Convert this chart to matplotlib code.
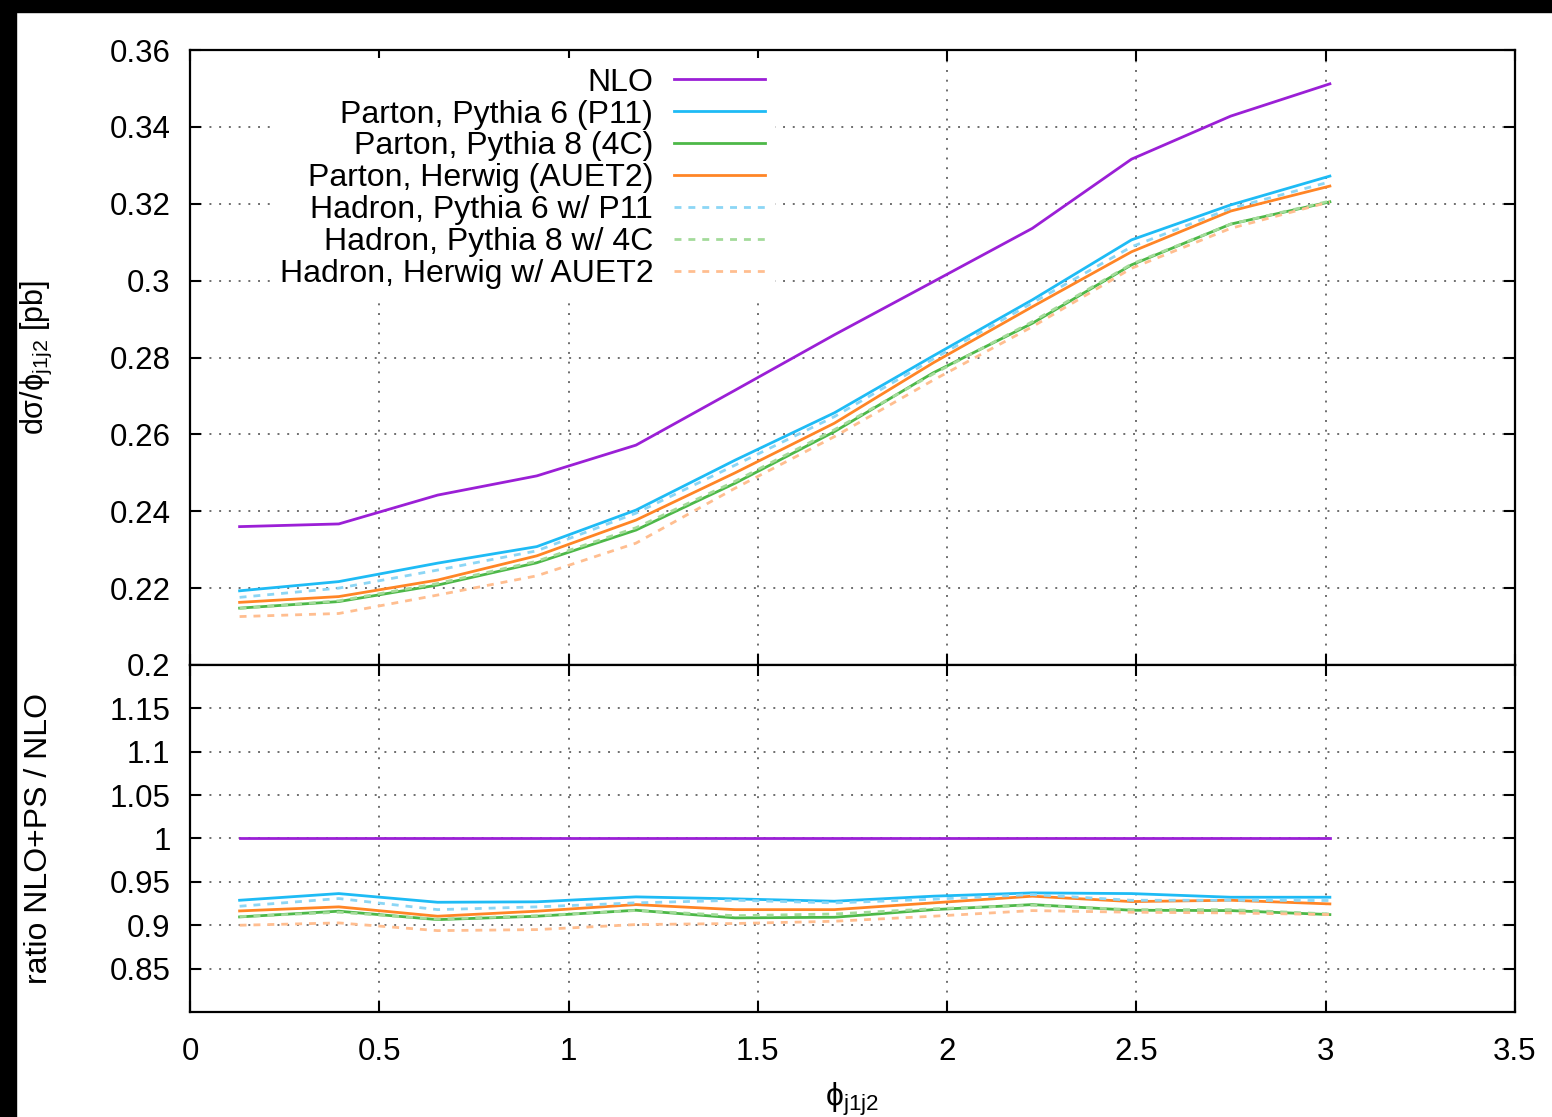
import numpy as np
import matplotlib.pyplot as plt
from matplotlib.ticker import FuncFormatter
from matplotlib.patches import Rectangle

plt.rcParams['font.family'] = ['Liberation Sans', 'DejaVu Sans']
plt.rcParams['mathtext.fontset'] = 'custom'
plt.rcParams['mathtext.rm'] = 'Liberation Sans'
plt.rcParams['mathtext.it'] = 'Liberation Sans'

# bin centres in phi_j1j2
phi = [0.131, 0.393, 0.654, 0.916, 1.178, 1.440, 1.702, 1.963, 2.225, 2.487, 2.749, 3.011]

# d sigma / d phi [pb]
nlo      = [0.2360, 0.2367, 0.2442, 0.2492, 0.2572, 0.2715, 0.2859, 0.2997, 0.3136, 0.3316, 0.3428, 0.3512]
par_py6  = [0.2193, 0.2217, 0.2265, 0.2308, 0.2403, 0.2533, 0.2656, 0.2804, 0.2950, 0.3106, 0.3197, 0.3272]
par_py8  = [0.2148, 0.2165, 0.2208, 0.2266, 0.2351, 0.2473, 0.2607, 0.2760, 0.2889, 0.3041, 0.3147, 0.3205]
par_hw   = [0.2163, 0.2178, 0.2221, 0.2284, 0.2377, 0.2500, 0.2629, 0.2786, 0.2932, 0.3075, 0.3181, 0.3246]
had_py6  = [0.2176, 0.2200, 0.2247, 0.2297, 0.2395, 0.2520, 0.2646, 0.2796, 0.2942, 0.3088, 0.3188, 0.3257]
had_py8  = [0.2147, 0.2167, 0.2212, 0.2270, 0.2357, 0.2478, 0.2612, 0.2757, 0.2893, 0.3043, 0.3147, 0.3207]
had_hw   = [0.2126, 0.2134, 0.2182, 0.2232, 0.2317, 0.2460, 0.2594, 0.2741, 0.2880, 0.3032, 0.3136, 0.3205]

# ratio NLO+PS / NLO
r_nlo     = [1.0] * 12
r_par_py6 = [0.9288, 0.9365, 0.9265, 0.9270, 0.9327, 0.9304, 0.9277, 0.9335, 0.9373, 0.9365, 0.9323, 0.9323]
r_par_py8 = [0.9096, 0.9162, 0.9065, 0.9104, 0.9173, 0.9085, 0.9092, 0.9180, 0.9238, 0.9173, 0.9169, 0.9123]
r_par_hw  = [0.9165, 0.9212, 0.9104, 0.9162, 0.9238, 0.9180, 0.9180, 0.9258, 0.9335, 0.9273, 0.9288, 0.9246]
r_had_py6 = [0.9219, 0.9308, 0.9180, 0.9212, 0.9258, 0.9288, 0.9258, 0.9300, 0.9354, 0.9288, 0.9288, 0.9285]
r_had_py8 = [0.9100, 0.9150, 0.9070, 0.9110, 0.9170, 0.9110, 0.9130, 0.9190, 0.9230, 0.9180, 0.9180, 0.9130]
r_had_hw  = [0.9000, 0.9027, 0.8938, 0.8950, 0.9008, 0.9020, 0.9046, 0.9104, 0.9169, 0.9150, 0.9142, 0.9123]

labels = ['NLO', 'Parton, Pythia 6 (P11)', 'Parton, Pythia 8 (4C)', 'Parton, Herwig (AUET2)',
          'Hadron, Pythia 6 w/ P11', 'Hadron, Pythia 8 w/ 4C', 'Hadron, Herwig w/ AUET2']
colors = ['#9B1FD6', '#1EBBF5', '#4DB848', '#FF8526', '#8CD6F5', '#A3DB9A', '#FFBE90']
styles = ['-', '-', '-', '-', (0, (2.5, 2.5)), (0, (2.5, 2.5)), (0, (2.5, 2.5))]

upper = [nlo, par_py6, par_py8, par_hw, had_py6, had_py8, had_hw]
lower = [r_nlo, r_par_py6, r_par_py8, r_par_hw, r_had_py6, r_had_py8, r_had_hw]

fig = plt.figure(figsize=(15.52, 11.17), dpi=100)
W, H = 1552, 1117
ax1 = fig.add_axes([190 / W, 1 - 665 / H, (1515 - 190) / W, (665 - 50) / H])
ax2 = fig.add_axes([190 / W, 1 - 1012 / H, (1515 - 190) / W, (1012 - 665) / H])

fmt = FuncFormatter(lambda v, p: '%g' % round(v, 3))

for ax in (ax1, ax2):
    ax.set_xlim(0, 3.5)
    ax.set_xticks(np.arange(0, 3.51, 0.5))
    ax.grid(True, color='#6e6e6e', linestyle=(0, (1, 4)), linewidth=1.4)
    ax.tick_params(direction='in', length=8, width=1.5, top=True, right=True,
                   labelsize=22.5, pad=14)
    ax.xaxis.set_major_formatter(fmt)
    ax.yaxis.set_major_formatter(fmt)
    for s in ax.spines.values():
        s.set_linewidth(1.6)

ax1.set_ylim(0.2, 0.36)
ax1.set_yticks(np.arange(0.2, 0.361, 0.02))
ax1.tick_params(labelbottom=False)
ax2.set_ylim(0.8, 1.2)
ax2.set_yticks(np.arange(0.85, 1.151, 0.05))
ax2.tick_params(axis='x', pad=18)

for y, lab, c, ls in zip(upper, labels, colors, styles):
    ax1.plot(phi, y, color=c, linestyle=ls, linewidth=2.0, label=lab)
for y, c, ls in zip(lower, colors, styles):
    ax2.plot(phi, y, color=c, linestyle=ls, linewidth=2.0)

leg = ax1.legend(loc='upper right', bbox_to_anchor=(775 / W, 1 - 58 / H),
                 bbox_transform=fig.transFigure, markerfirst=False, frameon=True,
                 fontsize=23, handlelength=2.85, handletextpad=0.66,
                 labelspacing=0.06, borderpad=0.3, borderaxespad=0)
leg.get_frame().set_edgecolor('none')
leg.get_frame().set_facecolor('white')
leg.get_frame().set_alpha(1)
leg.set_zorder(5)

ax1.set_ylabel('dσ/ϕ$_{\\rm j1j2}$ [pb]', fontsize=22)
ax1.yaxis.set_label_coords(-0.103, 0.5)
ax2.set_ylabel('ratio NLO+PS / NLO', fontsize=23)
ax2.yaxis.set_label_coords(-0.103, 0.5)
ax2.set_xlabel('ϕ$_{\\rm j1j2}$', fontsize=23, labelpad=10)

# black scan border at top and left
fig.patches.append(Rectangle((0, 1 - 12 / H), 1, 12 / H, transform=fig.transFigure,
                             color='black', zorder=10))
fig.patches.append(Rectangle((0, 0), 16 / W, 1, transform=fig.transFigure,
                             color='black', zorder=10))

fig.savefig('out.png', dpi=100)
